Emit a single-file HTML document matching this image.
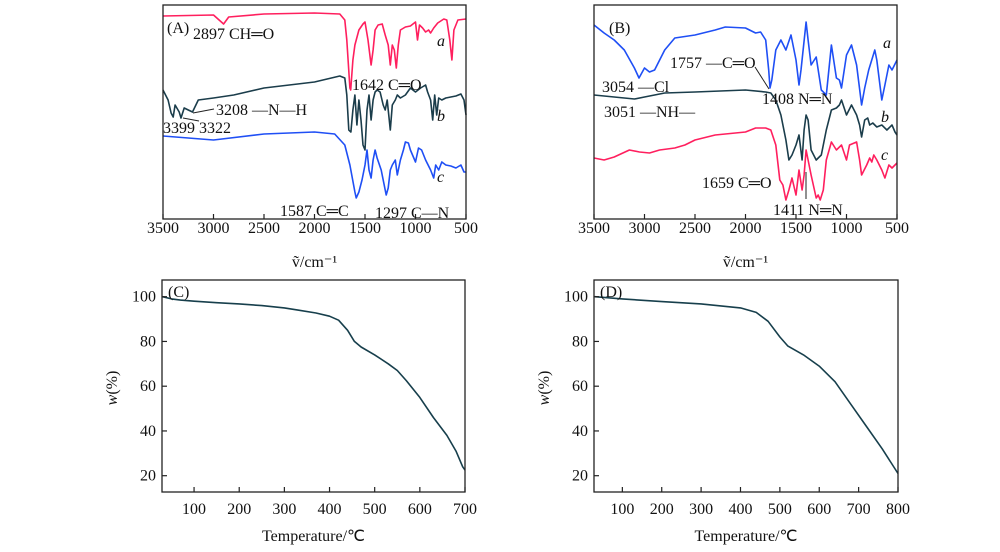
<!DOCTYPE html>
<html><head><meta charset="utf-8"><style>
body{margin:0;background:#fff}
svg{display:block;font-family:"Liberation Serif",serif}
text{font-size:16px;fill:#111}
</style></head><body>
<svg id="fig" width="1000" height="552" viewBox="0 0 1000 552" xmlns="http://www.w3.org/2000/svg"></svg>
<script>
// FTIR panel A (wavenumber, relative transmittance)
const aWn=[3500,3000,2900,2850,2500,2000,1750,1700,1680,1650,1642,1620,1600,1560,1520,1500,1470,1440,1420,1400,1370,1330,1300,1270,1250,1230,1210,1190,1170,1150,1100,1050,1000,980,960,930,900,870,850,820,780,720,690,660,640,620,580,500];
const aT=[203,204,195,202,205,206,205,199,179,131,129,159,174,189,195,197,179,154,169,189,194,195,184,174,154,174,169,151,174,189,192,193,197,179,194,191,187,189,186,191,196,200,199,179,159,189,199,200];
const bWn=[3500,3450,3420,3399,3380,3340,3322,3290,3250,3208,3150,3000,2800,2500,2000,1750,1700,1680,1660,1640,1620,1600,1580,1560,1540,1520,1500,1480,1460,1440,1420,1400,1380,1350,1320,1300,1280,1250,1230,1200,1180,1150,1100,1050,1000,950,900,880,850,830,810,790,770,740,700,650,600,550,520,500];
const bT=[129,119,106,102,114,107,101,111,109,107,119,121,124,131,137,143,141,124,89,87,109,124,94,119,99,74,69,109,124,99,119,127,129,127,114,109,119,89,114,119,124,121,124,131,127,131,134,127,119,99,124,104,121,119,121,122,123,125,119,104];
const cWn=[3500,3000,2500,2000,1800,1700,1650,1600,1587,1560,1530,1500,1480,1460,1440,1420,1400,1380,1340,1300,1290,1270,1250,1230,1200,1180,1150,1120,1100,1070,1050,1000,970,940,900,850,820,800,770,740,700,650,600,550,520,500];
const cT=[83,79,85,87,85,74,54,27,21,27,39,54,69,49,41,59,69,61,49,29,24,31,49,54,59,44,59,69,77,76,69,57,71,69,59,49,41,54,49,57,54,53,51,54,47,47];
// FTIR panel B
const baWn=[3500,3400,3300,3200,3100,3054,3000,2950,2900,2800,2700,2500,2300,2200,2000,1900,1850,1800,1770,1757,1740,1700,1650,1600,1550,1500,1470,1450,1400,1380,1350,1300,1250,1200,1150,1100,1070,1050,1000,950,900,850,820,780,720,700,650,620,580,550,500];
const baT=[194,186,179,169,151,141,151,147,149,169,181,184,189,192,191,186,187,179,149,131,139,169,179,169,184,159,134,149,197,179,154,162,129,124,174,141,139,131,164,174,154,114,131,149,169,159,119,134,154,149,159];
const bbWn=[3500,3300,3100,3000,2800,2500,2000,1800,1750,1700,1650,1600,1570,1540,1500,1470,1440,1420,1400,1380,1350,1300,1280,1250,1200,1150,1100,1070,1050,1000,950,900,870,850,820,790,770,740,700,650,600,550,520,500];
const bbT=[124,122,120,122,126,127,129,127,126,119,104,79,59,64,74,84,59,89,104,99,69,59,61,64,89,109,111,114,119,104,114,104,94,82,99,101,94,96,92,94,89,94,87,84];
const bcWn=[3500,3400,3300,3150,3050,2950,2850,2700,2600,2500,2300,2100,2000,1900,1800,1750,1700,1660,1630,1600,1570,1540,1500,1470,1440,1420,1400,1380,1350,1300,1280,1260,1230,1200,1150,1100,1050,1000,970,900,870,850,800,770,750,730,700,650,620,580,550,500];
const bcT=[61,59,62,69,67,66,69,71,74,79,84,86,87,91,91,89,74,39,34,19,29,41,24,49,29,44,69,59,44,21,24,19,29,59,77,69,74,59,74,77,59,44,54,61,57,64,59,49,41,54,51,56];
// TGA
const cTemp=[30,50,70,100,150,200,250,300,330,370,400,420,440,455,470,500,530,550,570,600,630,660,680,695,700];
const cW=[100,99,98.5,98,97.3,96.8,96,95,94,92.7,91.3,89.5,85,80,77.5,74,70,67,62.5,55,46,38,31,24,22.5];
const dTemp=[30,100,200,300,400,440,470,500,520,560,600,640,680,720,760,800];
const dW=[100,99,97.8,96.8,95,93,89,82,78,74,69,62,52,42,32,21];
const irTicks=[3500,3000,2500,2000,1500,1000,500];
const cTicks=[100,200,300,400,500,600,700];
const dTicks=[100,200,300,400,500,600,700,800];
const wTicks=[20,40,60,80,100];

const NS="http://www.w3.org/2000/svg";
const svg=document.getElementById('fig');
function mk(tag,attrs,parent){const e=document.createElementNS(NS,tag);for(const k in attrs)e.setAttribute(k,attrs[k]);(parent||svg).appendChild(e);return e;}
function txt(x,y,s,anchor,parent,extra){const t=mk('text',Object.assign({x:x,y:y,'text-anchor':anchor||'start'},extra||{}),parent);t.textContent=s;return t;}
function lin(d0,d1,r0,r1){return v=>r0+(v-d0)/(d1-d0)*(r1-r0);}

function frame(g,x0,y0,x1,y1){
  const r=mk('rect',{x:x0,y:y0,width:x1-x0,height:y1-y0,fill:'none',stroke:'#222','stroke-width':1.3},g);
  
  
}
function series(g,xs,ys,sx,sy,color,name){
  let d='';xs.forEach((v,i)=>{d+=(i?'L':'M')+sx(v).toFixed(1)+','+sy(ys[i]).toFixed(1);});
  const p=mk('path',{d:d,fill:'none',stroke:color,'stroke-width':1.6,'stroke-linejoin':'round'},g);
  
  
}
function xticks(g,ticks,sx,yb,name,off){
  const tg=mk('g',{},g);
  
  
  ticks.forEach(t=>{const x=sx(t);mk('line',{x1:x,x2:x,y1:yb,y2:yb-5,stroke:'#222','stroke-width':1.2},tg);txt(x,yb+off,String(t),'middle',tg);});
}

function irPanel(name,x0,x1,series3,labels){
  const g=mk('g',{});
  
  
  const y0=5,y1=219;
  const sx=lin(3500,500,x0,x1), sy=lin(0,214,y1,y1-214);
  series3.forEach(s=>series(g,s[0],s[1],sx,sy,s[2],s[3]));
  frame(g,x0,y0,x1,y1);
  xticks(g,irTicks,sx,y1,'x-axis-ticks',14);
  const xl=txt((x0+x1)/2,267,'ṽ/cm⁻¹','middle',g);
  
  
  labels.forEach(l=>{const t=txt(l[0],l[1],l[2],'start',g,l[3]?{'font-style':'italic'}:{});});
  return {g,sx,sy};
}
const A=irPanel('panel-a',163,466,[[aWn,aT,'#ff1f5e','series-a'],[bWn,bT,'#1b3d4b','series-b'],[cWn,cT,'#1f4ff5','series-c']],
 [[167,33,'(A)'],[193,39,'2897 CH═O'],[437,46,'a',1],[352,90,'1642 C═O'],[216,115,'3208 —N—H'],[163,133,'3399'],[199,133,'3322'],[437,121,'b',1],[437,182,'c',1],[280,216,'1587 C═C'],[375,218,'1297 C—N']]);
mk('line',{x1:193,y1:113,x2:214,y2:109,stroke:'#222'},A.g);
mk('line',{x1:183,y1:118,x2:199,y2:121,stroke:'#222'},A.g);
const B=irPanel('panel-b',594,897,[[baWn,baT,'#1f4ff5','series-a'],[bbWn,bbT,'#1b3d4b','series-b'],[bcWn,bcT,'#ff1f5e','series-c']],
 [[609,33,'(B)'],[670,68,'1757 —C═O'],[883,48,'a',1],[602,92,'3054 —Cl'],[762,104,'1408 N═N'],[604,117,'3051 —NH—'],[881,122,'b',1],[881,160,'c',1],[702,188,'1659 C═O'],[773,215,'1411 N═N']]);
mk('line',{x1:755,y1:67,x2:769,y2:89,stroke:'#222'},B.g);
mk('line',{x1:806,y1:172,x2:806,y2:199,stroke:'#222'},B.g);

function tgaPanel(name,x0,x1,d0,d1,xs,ys,ticks,label){
  const g=mk('g',{});
  
  
  const y0=280,y1=492;
  const sx=lin(d0,d1,x0,x1), sy=lin(20,100,475.7,296.7);
  series(g,xs,ys,sx,sy,'#173f4c','tga-curve');
  frame(g,x0,y0,x1,y1);
  xticks(g,ticks,sx,y1,'x-axis-ticks',22);
  const yg=mk('g',{},g);
  
  
  wTicks.forEach(t=>{const y=sy(t);mk('line',{x1:x0,x2:x0+5,y1:y,y2:y,stroke:'#222','stroke-width':1.2},yg);txt(x0-6,y+5,String(t),'end',yg);});
  const xl=txt((x0+x1)/2,541,'Temperature/℃','middle',g);
  
  
  const yl=txt(0,0,'','middle',g,{transform:'translate('+(x0-45)+',388) rotate(-90)'});
  yl.innerHTML='<tspan font-style="italic">w</tspan>(%)';
  
  
  const pl=txt(x0+6,297,label,'start',g);
  
  
}
tgaPanel('panel-c',162,465,29,700,cTemp,cW,cTicks,'(C)');
tgaPanel('panel-d',594,898,28,800,dTemp,dW,dTicks,'(D)');
</script>
</body></html>
